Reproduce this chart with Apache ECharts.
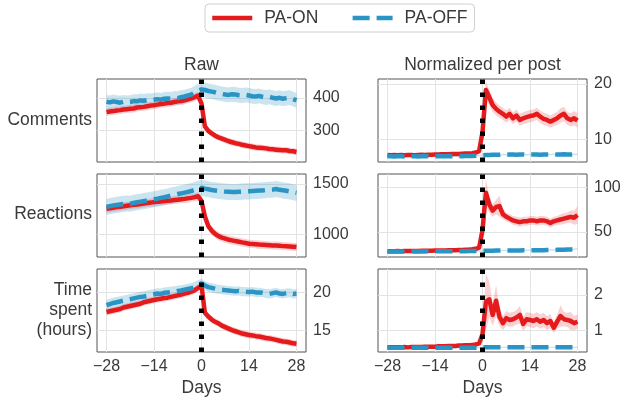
<!DOCTYPE html>
<html>
<head>
    <meta charset="utf-8">
    <title>PA-ON / PA-OFF</title>
    <script src="https://cdn.jsdelivr.net/npm/echarts@6/dist/echarts.min.js"></script>
    <style>
        html, body {margin: 0; padding: 0; background: #fff;}
        #chart {width: 624px; height: 401px;}
    </style>
</head>
<body>
<div id="chart"></div>
<script>
    // days relative to the switch
    var days = [-28,-27,-26,-25,-24,-23,-22,-21,-20,-19,-18,-17,-16,-15,-14,-13,-12,-11,-10,-9,-8,-7,-6,-5,-4,-3,-2,-1,
        0,1,2,3,4,5,6,7,8,9,10,11,12,13,14,15,16,17,18,19,20,21,22,23,24,25,26,27,28];
    var dayTicks = [-28, -14, 0, 14, 28];

    // Comments, raw
    var commentsOn = [356,358,359,361,362,364,365,366,367,370,371,372,374,376,377,379,381,382,384,385,387,389,390,392,395,398,402,407,
        382,312,298,290,283,278,274,270,266,263,260,258,255,253,251,249,247,246,245,244,242,241,240,239,238,238,236,235,233];
    var commentsOnErr = [12,12,12,12,12,12,12,12,12,12,12,12,12,12,12,12,12,12,12,12,12,12,12,12,12,12,12,12,
        14,10,10,10,10,10,10,10,10,10,10,10,10,10,10,10,10,10,10,10,10,10,10,10,10,10,10,10,10];
    var commentsOff = [388,386,389,387,385,388,386,387,390,389,392,391,393,392,394,396,394,397,398,397,400,399,402,404,407,410,416,422,
        426,424,421,419,417,414,412,410,409,411,410,408,407,409,407,405,404,406,403,401,403,400,398,400,397,399,401,396,392];
    var commentsOffErr = [21,21,21,21,21,21,21,21,21,21,21,21,21,21,21,21,21,21,21,21,21,21,21,21,21,21,21,21,
        23,23,23,23,23,23,23,23,23,23,23,23,23,23,23,23,23,23,23,23,23,23,23,23,23,23,23,23,23];

    // Comments, per post
    var commentsNormOn = [7.15,7.1,7.15,7.1,7.15,7.1,7.15,7.15,7.1,7.15,7.2,7.15,7.2,7.2,7.25,7.25,7.3,7.3,7.3,7.35,7.35,7.35,7.4,7.45,7.45,7.5,7.6,7.85,
        11.3,18.9,17.6,16.2,15.5,15.0,14.6,14.1,14.6,13.8,14.3,13.5,13.8,14.0,14.2,14.3,14.6,14.1,13.7,13.5,13.2,13.5,13.8,14.3,14.6,13.8,13.5,13.8,13.4];
    var commentsNormOnErr = [0.2,0.2,0.2,0.2,0.2,0.2,0.2,0.2,0.2,0.2,0.2,0.2,0.2,0.2,0.2,0.2,0.2,0.2,0.2,0.2,0.2,0.2,0.2,0.2,0.2,0.2,0.2,0.2,
        1.1,1.6,1.4,1.3,1.2,1.1,1.1,1.1,1.1,1.1,1.1,1.1,1.1,1.1,1.1,1.1,1.1,1.1,1.1,1.1,1.1,1.1,1.2,1.3,1.3,1.2,1.2,1.3,1.3];
    var commentsNormOff = [6.95,6.95,6.9,6.95,6.95,6.9,6.95,6.95,6.95,6.9,6.95,6.95,6.95,6.9,6.95,6.95,6.95,6.95,7.0,6.95,7.0,7.0,6.95,7.0,7.0,7.0,7.05,7.05,
        7.1,7.15,7.15,7.2,7.2,7.2,7.25,7.2,7.25,7.25,7.2,7.25,7.25,7.2,7.25,7.25,7.25,7.2,7.25,7.25,7.25,7.3,7.25,7.25,7.3,7.25,7.25,7.3,7.3];
    var commentsNormOffErr = [0.15,0.15,0.15,0.15,0.15,0.15,0.15,0.15,0.15,0.15,0.15,0.15,0.15,0.15,0.15,0.15,0.15,0.15,0.15,0.15,0.15,0.15,0.15,0.15,0.15,0.15,0.15,0.15,
        0.15,0.15,0.15,0.15,0.15,0.15,0.15,0.15,0.15,0.15,0.15,0.15,0.15,0.15,0.15,0.15,0.15,0.15,0.15,0.15,0.15,0.15,0.15,0.15,0.15,0.15,0.15,0.15,0.15];

    // Reactions, raw
    var reactionsOn = [1253,1257,1262,1268,1272,1276,1281,1286,1291,1295,1300,1305,1309,1313,1318,1321,1324,1328,1331,1334,1338,1342,1346,1350,1355,1360,1367,1376,
        1330,1175,1080,1035,1003,980,965,955,945,938,931,925,918,912,905,902,899,896,894,892,890,888,886,884,881,879,877,875,872];
    var reactionsOnErr = [40,40,40,40,40,40,40,40,40,40,40,40,40,40,40,40,40,40,40,40,40,40,40,40,40,40,40,40,
        40,40,40,40,40,40,40,40,40,40,40,40,40,40,40,40,40,40,40,40,40,40,40,40,40,40,40,40,40];
    var reactionsOff = [1270,1278,1284,1290,1295,1300,1304,1302,1310,1316,1322,1328,1334,1340,1346,1352,1360,1366,1374,1382,1390,1398,1405,1412,1420,1428,1440,1450,
        1460,1452,1445,1438,1434,1430,1426,1422,1420,1418,1418,1420,1422,1424,1425,1428,1430,1432,1434,1438,1440,1442,1448,1440,1435,1430,1424,1416,1410];
    var reactionsOffErr = [80,80,80,80,80,80,80,80,80,80,80,80,80,80,80,80,80,80,80,80,80,80,80,80,80,80,80,80,
        80,80,80,80,80,80,80,80,80,80,80,80,80,80,80,80,80,80,80,80,80,80,80,80,80,80,80,80,80];

    // Reactions, per post
    var reactionsNormOn = [28.5,28.4,28.5,28.6,28.5,28.6,28.7,28.6,28.8,28.8,28.9,29.0,28.9,29.1,29.2,29.2,29.3,29.4,29.5,29.6,29.7,29.8,29.9,30.1,30.3,30.6,31.2,32.5,
        52,94,81,74,78,79,70,67,65,63,62,61,62,62,63,63,62,63,63,62,60,62,63,64,65,66,67,66,69];
    var reactionsNormOnErr = [1.5,1.5,1.5,1.5,1.5,1.5,1.5,1.5,1.5,1.5,1.5,1.5,1.5,1.5,1.5,1.5,1.5,1.5,1.5,1.5,1.5,1.5,1.5,1.5,1.5,1.5,1.5,1.5,
        5,15,9,7,8,12,6,5,5,5,5,5,5,5,5,5,5,5,5,5,5,5,5,6,6,6,7,8,10];
    var reactionsNormOff = [28.3,28.2,28.3,28.3,28.2,28.3,28.3,28.4,28.3,28.3,28.4,28.3,28.4,28.4,28.3,28.4,28.4,28.5,28.4,28.5,28.5,28.5,28.6,28.5,28.6,28.6,28.7,28.7,
        28.9,29.0,29.1,29.1,29.2,29.2,29.3,29.3,29.3,29.4,29.4,29.4,29.5,29.5,29.6,29.6,29.6,29.7,29.7,29.8,29.8,29.9,30.0,30.0,30.1,30.3,30.5,30.8,31.5];
    var reactionsNormOffErr = [0.8,0.8,0.8,0.8,0.8,0.8,0.8,0.8,0.8,0.8,0.8,0.8,0.8,0.8,0.8,0.8,0.8,0.8,0.8,0.8,0.8,0.8,0.8,0.8,0.8,0.8,0.8,0.8,
        0.8,0.8,0.8,0.8,0.8,0.8,0.8,0.8,0.8,0.8,0.8,0.8,0.8,0.8,0.8,0.8,0.8,0.8,0.8,0.8,0.8,0.8,0.8,0.8,0.8,0.8,0.8,0.8,0.8];

    // Time spent (hours), raw
    var timeOn = [17.4,17.5,17.6,17.7,17.8,18.0,18.1,18.2,18.3,18.4,18.5,18.7,18.8,18.9,19.0,19.1,19.15,19.25,19.3,19.4,19.5,19.6,19.7,19.85,19.95,20.1,20.3,20.6,
        20.9,17.3,16.8,16.4,16.1,15.9,15.6,15.4,15.2,15.0,14.85,14.7,14.55,14.45,14.35,14.3,14.2,14.15,14.05,13.95,13.9,13.8,13.7,13.6,13.5,13.45,13.35,13.25,13.2];
    var timeOnErr = [0.45,0.45,0.45,0.45,0.45,0.45,0.45,0.45,0.45,0.45,0.45,0.45,0.45,0.45,0.45,0.45,0.45,0.45,0.45,0.45,0.45,0.45,0.45,0.45,0.45,0.45,0.45,0.45,
        0.45,0.45,0.45,0.45,0.45,0.45,0.45,0.45,0.45,0.45,0.45,0.45,0.45,0.45,0.45,0.45,0.45,0.45,0.45,0.45,0.45,0.45,0.45,0.45,0.45,0.45,0.45,0.45,0.45];
    var timeOff = [18.3,18.45,18.6,18.7,18.8,18.9,19.0,19.1,19.2,19.3,19.4,19.45,19.55,19.65,19.75,19.85,19.8,19.95,20.0,20.05,20.1,20.2,20.25,20.35,20.45,20.55,20.7,20.95,
        21.2,20.9,20.7,20.6,20.5,20.4,20.35,20.3,20.25,20.2,20.15,20.2,20.1,20.1,20.05,20.1,20.0,20.0,19.95,19.85,19.8,19.9,20.0,19.85,19.8,19.9,19.95,19.8,19.85];
    var timeOffErr = [0.7,0.7,0.7,0.7,0.7,0.7,0.7,0.7,0.7,0.7,0.7,0.7,0.7,0.7,0.7,0.7,0.7,0.7,0.7,0.7,0.7,0.7,0.7,0.7,0.7,0.7,0.7,0.7,
        0.6,0.6,0.6,0.6,0.6,0.6,0.6,0.6,0.6,0.6,0.6,0.6,0.6,0.6,0.6,0.6,0.6,0.6,0.6,0.6,0.6,0.6,0.6,0.6,0.6,0.6,0.6,0.6,0.6];

    // Time spent, per post
    var timeNormOn = [0.53,0.53,0.53,0.53,0.53,0.54,0.53,0.54,0.54,0.54,0.54,0.55,0.55,0.55,0.55,0.56,0.56,0.56,0.57,0.57,0.57,0.58,0.58,0.59,0.59,0.6,0.61,0.64,
        0.9,1.81,1.88,1.44,1.84,1.39,1.21,1.35,1.30,1.32,1.37,1.44,1.19,1.32,1.30,1.27,1.32,1.25,1.30,1.21,1.27,1.08,1.25,1.41,1.32,1.30,1.27,1.21,1.25];
    var timeNormOnErr = [0.02,0.02,0.02,0.02,0.02,0.02,0.02,0.02,0.02,0.02,0.02,0.02,0.02,0.02,0.02,0.02,0.02,0.02,0.02,0.02,0.02,0.02,0.02,0.02,0.02,0.02,0.02,0.03,
        0.15,0.8,0.5,0.3,0.45,0.25,0.2,0.2,0.2,0.2,0.2,0.25,0.2,0.2,0.2,0.2,0.2,0.2,0.2,0.2,0.2,0.15,0.2,0.3,0.2,0.2,0.25,0.2,0.2];
    var timeNormOff = [0.52,0.52,0.52,0.52,0.52,0.52,0.52,0.52,0.52,0.52,0.52,0.52,0.52,0.52,0.52,0.52,0.52,0.52,0.52,0.52,0.52,0.52,0.52,0.52,0.52,0.52,0.52,0.52,
        0.53,0.53,0.53,0.53,0.53,0.53,0.53,0.53,0.53,0.53,0.53,0.53,0.53,0.53,0.53,0.53,0.53,0.53,0.53,0.53,0.53,0.53,0.53,0.53,0.53,0.53,0.53,0.53,0.53];
    var timeNormOffErr = [0.02,0.02,0.02,0.02,0.02,0.02,0.02,0.02,0.02,0.02,0.02,0.02,0.02,0.02,0.02,0.02,0.02,0.02,0.02,0.02,0.02,0.02,0.02,0.02,0.02,0.02,0.02,0.02,
        0.02,0.02,0.02,0.02,0.02,0.02,0.02,0.02,0.02,0.02,0.02,0.02,0.02,0.02,0.02,0.02,0.02,0.02,0.02,0.02,0.02,0.02,0.02,0.02,0.02,0.02,0.02,0.02,0.02];

    var commentsTicks = [300, 400];
    var commentsNormTicks = [10, 20];
    var reactionsTicks = [1000, 1500];
    var reactionsNormTicks = [50, 100];
    var timeTicks = [15, 20];
    var timeNormTicks = [1, 2];

    var RED = '#e41a1c', BLUE = '#2a95c4';
    var RED_BAND = 'rgba(228,26,28,0.2)', BLUE_BAND = 'rgba(42,149,196,0.25)';
    var TXT = '#3a3a3a', FONT = 'Liberation Sans';

    var panels = [
        {on: commentsOn, onErr: commentsOnErr, off: commentsOff, offErr: commentsOffErr, ticks: commentsTicks, min: 202, max: 458},
        {on: commentsNormOn, onErr: commentsNormOnErr, off: commentsNormOff, offErr: commentsNormOffErr, ticks: commentsNormTicks, min: 5.9, max: 20.9},
        {on: reactionsOn, onErr: reactionsOnErr, off: reactionsOff, offErr: reactionsOffErr, ticks: reactionsTicks, min: 773, max: 1597},
        {on: reactionsNormOn, onErr: reactionsNormOnErr, off: reactionsNormOff, offErr: reactionsNormOffErr, ticks: reactionsNormTicks, min: 22, max: 115},
        {on: timeOn, onErr: timeOnErr, off: timeOff, offErr: timeOffErr, ticks: timeTicks, min: 12.1, max: 23.1},
        {on: timeNormOn, onErr: timeNormOnErr, off: timeNormOff, offErr: timeNormOffErr, ticks: timeNormTicks, min: 0.40, max: 2.73}
    ];

    var rowTops = [79, 174, 269];
    var colLefts = [97, 378];

    var grids = [], xAxes = [], yAxes = [], series = [];

    function pairs(vals) {
        var out = [];
        for (var i = 0; i < days.length; i++) out.push([days[i], vals[i]]);
        return out;
    }

    // confidence band: one polygon (upper edge forward, lower edge back)
    function band(idx, vals, errs, color) {
        var data = [];
        for (var i = 0; i < days.length; i++) data.push([days[i], vals[i] - errs[i], vals[i] + errs[i]]);
        series.push({
            type: 'custom', xAxisIndex: idx, yAxisIndex: idx, data: data, silent: true, z: 1, clip: true,
            encode: {x: 0, y: [1, 2]},
            renderItem: function (params, api) {
                if (params.dataIndex !== 0) return;
                var pts = [], i;
                for (i = 0; i < data.length; i++) pts.push(api.coord([data[i][0], data[i][2]]));
                for (i = data.length - 1; i >= 0; i--) pts.push(api.coord([data[i][0], data[i][1]]));
                return {type: 'polygon', shape: {points: pts}, style: {fill: color, stroke: null}};
            }
        });
    }

    for (var p = 0; p < panels.length; p++) {
        var pn = panels[p];
        var row = Math.floor(p / 2), col = p % 2;
        var bottomRow = row === 2;
        grids.push({
            left: colLefts[col], top: rowTops[row], width: 209, height: 83,
            show: true, borderColor: '#555', borderWidth: 1, backgroundColor: 'transparent'
        });
        xAxes.push({
            type: 'value', gridIndex: p, min: -30.8, max: 30.8,
            axisLine: {show: false},
            axisTick: {show: false, customValues: dayTicks},
            axisLabel: {
                show: bottomRow, customValues: dayTicks, margin: 7,
                fontSize: 16, color: TXT, fontFamily: FONT,
                formatter: function (v) { return String(v).replace('-', '\u2212'); }
            },
            splitLine: {show: true, lineStyle: {color: '#e3e3e3', width: 1}},
            name: bottomRow ? 'Days' : '', nameLocation: 'middle', nameGap: 27,
            nameTextStyle: {fontSize: 17.5, color: TXT, fontFamily: FONT}
        });
        yAxes.push({
            type: 'value', gridIndex: p, position: 'right', min: pn.min, max: pn.max,
            axisLine: {show: false},
            axisTick: {show: false, customValues: pn.ticks},
            axisLabel: {
                customValues: pn.ticks, margin: 7, fontSize: 16, color: TXT, fontFamily: FONT,
                formatter: function (v) { return String(v); }
            },
            splitLine: {show: true, lineStyle: {color: '#e3e3e3', width: 1}}
        });

        band(p, pn.on, pn.onErr, RED_BAND);
        band(p, pn.off, pn.offErr, BLUE_BAND);

        series.push({
            name: 'PA-ON', type: 'line', xAxisIndex: p, yAxisIndex: p, data: pairs(pn.on),
            symbol: 'none', lineStyle: {color: RED, width: 4.5, cap: 'butt', join: 'round'},
            itemStyle: {color: RED}, z: 3
        });
        series.push({
            name: 'PA-OFF', type: 'line', xAxisIndex: p, yAxisIndex: p, data: pairs(pn.off),
            symbol: 'none', lineStyle: {color: BLUE, width: 4.5, type: [17, 7], cap: 'butt'},
            itemStyle: {color: BLUE}, z: 4
        });
        // dotted marker at day 0
        series.push({
            type: 'line', xAxisIndex: p, yAxisIndex: p, data: [], z: 10, silent: true,
            markLine: {
                symbol: ['none', 'none'], silent: true, animation: false,
                label: {show: false},
                lineStyle: {color: '#000', width: 5, type: [4.5, 8.5]},
                emphasis: {disabled: true},
                data: [{xAxis: 0}]
            }
        });
    }

    var textStyle = {fontSize: 17.5, fill: TXT, fontFamily: FONT};
    function label(x, y, txt, align) {
        return {
            type: 'text', x: x, y: y, silent: true,
            style: Object.assign({text: txt, align: align, verticalAlign: 'middle', lineHeight: 20}, textStyle)
        };
    }

    var option = {
        animation: false,
        backgroundColor: '#fff',
        legend: {
            left: 205, top: 4, padding: [5, 7, 5, 5],
            itemWidth: 40, itemHeight: 14, itemGap: 32,
            borderColor: '#d0d0d0', borderWidth: 1, borderRadius: 4,
            itemStyle: {opacity: 0},
            lineStyle: {width: 4.5},
            textStyle: {fontSize: 17.5, color: TXT, fontFamily: FONT, padding: [0, 0, 0, 7]},
            data: ['PA-ON', 'PA-OFF']
        },
        graphic: [
            label(201.5, 65, 'Raw', 'center'),
            label(482.5, 65, 'Normalized per post', 'center'),
            label(92, 120, 'Comments', 'right'),
            label(92, 214, 'Reactions', 'right'),
            label(92, 310, 'Time\nspent\n(hours)', 'right')
        ],
        grid: grids,
        xAxis: xAxes,
        yAxis: yAxes,
        series: series
    };

    var myChart = echarts.init(document.getElementById('chart'));
    myChart.setOption(option);
</script>
</body>
</html>
